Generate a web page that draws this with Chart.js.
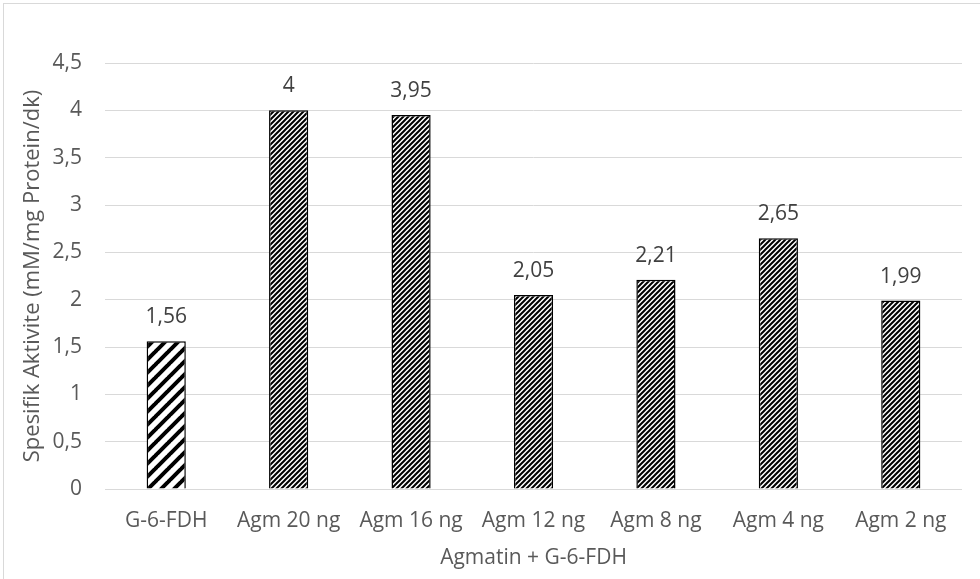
<!DOCTYPE html>
<html>
<head>
<meta charset="utf-8">
<script src="https://cdn.jsdelivr.net/npm/chart.js@4.4.1/dist/chart.umd.min.js"></script>
<style>
  html, body { margin: 0; padding: 0; background: #fff; }
  #wrap { position: relative; width: 980px; height: 579px; }
  #frame { position: absolute; left: 3px; top: 3px; right: 0; bottom: 0; border-left: 1px solid #d9d9d9; border-top: 1px solid #d9d9d9; pointer-events: none; }
  canvas { display: block; }
</style>
</head>
<body>
<div id="wrap">
  <canvas id="chart" width="980" height="579"></canvas>
  <div id="frame"></div>
</div>
<script>
const categories = ["G-6-FDH", "Agm 20 ng", "Agm 16 ng", "Agm 12 ng", "Agm 8 ng", "Agm 4 ng", "Agm 2 ng"];
const activity = [1.56, 4, 3.95, 2.05, 2.21, 2.65, 1.99];
const xTitle = "Agmatin + G-6-FDH";
const yTitle = "Spesifik Aktivite (mM/mg Protein/dk)";

const fontFamily = "'Open Sans', sans-serif";

function stripePattern(size, lineWidth) {
  const c = document.createElement('canvas');
  c.width = size;
  c.height = size;
  const g = c.getContext('2d');
  g.fillStyle = '#fff';
  g.fillRect(0, 0, size, size);
  g.strokeStyle = '#000';
  g.lineWidth = lineWidth;
  g.beginPath();
  for (let k = -1; k <= 1; k++) {
    g.moveTo(k * size - 1, size + 1);
    g.lineTo(k * size + size + 1, -1);
  }
  g.stroke();
  return g.createPattern(c, 'repeat');
}

const widePattern = stripePattern(13, 4);
const densePattern = stripePattern(5, 2);

const fmt = v => v.toString().replace('.', ',');

const valueLabels = {
  id: 'valueLabels',
  afterDatasetsDraw(chart) {
    const ctx = chart.ctx;
    const meta = chart.getDatasetMeta(0);
    ctx.save();
    ctx.font = "21px " + fontFamily;
    ctx.fillStyle = '#404040';
    ctx.textAlign = 'center';
    ctx.textBaseline = 'middle';
    meta.data.forEach((bar, i) => {
      ctx.fillText(fmt(activity[i]), bar.x, bar.y - 24);
    });
    ctx.restore();
  }
};

new Chart(document.getElementById('chart'), {
  type: 'bar',
  data: {
    labels: categories,
    datasets: [{
      data: activity,
      backgroundColor: activity.map((v, i) => i === 0 ? widePattern : densePattern),
      borderColor: '#000',
      borderWidth: 1.5,
      categoryPercentage: 1,
      barPercentage: 0.32
    }]
  },
  options: {
    responsive: false,
    animation: false,
    layout: { padding: { top: 63, right: 18, left: 0, bottom: 0 } },
    scales: {
      x: {
        grid: { display: false, drawTicks: false },
        border: { display: false },
        ticks: {
          padding: 19,
          maxRotation: 0,
          color: '#595959',
          font: { family: fontFamily, size: 21 }
        },
        title: {
          display: true,
          text: xTitle,
          color: '#595959',
          padding: { top: 0, bottom: 8 },
          font: { family: fontFamily, size: 21 }
        },
        afterFit(scale) { scale.height = 90; }
      },
      y: {
        min: 0,
        max: 4.5,
        grid: { color: '#d9d9d9', lineWidth: 1, drawTicks: false },
        border: { display: false },
        ticks: {
          stepSize: 0.5,
          padding: 23,
          color: '#595959',
          font: { family: fontFamily, size: 21 },
          callback: v => fmt(v)
        },
        title: {
          display: true,
          text: yTitle,
          color: '#595959',
          padding: { top: 20, bottom: 0 },
          font: { family: fontFamily, size: 22 }
        },
        afterFit(scale) { scale.width = 105; }
      }
    },
    plugins: {
      legend: { display: false },
      tooltip: { enabled: false }
    }
  },
  plugins: [valueLabels]
});
</script>
</body>
</html>
